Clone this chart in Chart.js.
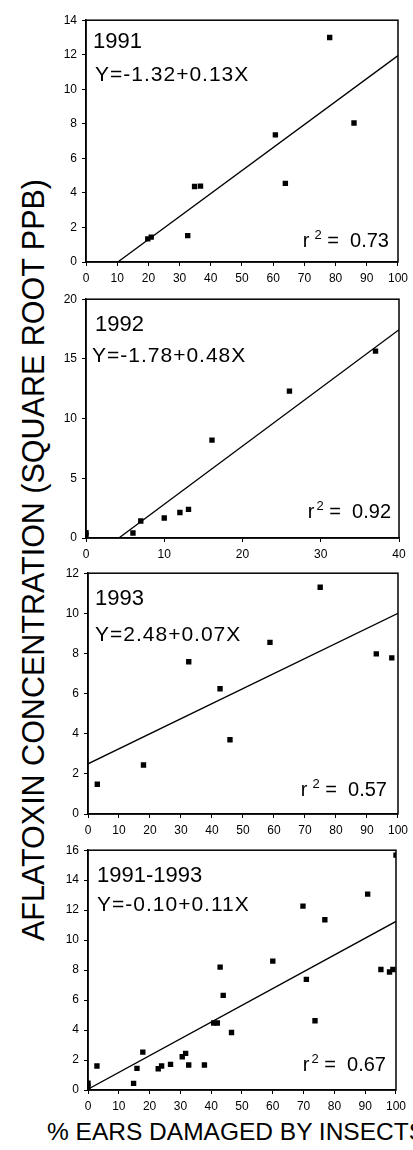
<!DOCTYPE html>
<html>
<head>
<meta charset="utf-8">
<script src="https://cdn.jsdelivr.net/npm/chart.js@4.4.1/dist/chart.umd.min.js"></script>
<style>
  html, body { margin: 0; padding: 0; background: #fff; }
  body { width: 413px; height: 1150px; overflow: hidden; position: relative; font-family: "Liberation Sans", Arial, sans-serif; }
  canvas { position: absolute; }
  #ytitle { position: absolute; left: 33px; top: 560px; white-space: nowrap; font-size: 30.5px; line-height: 30.5px;
            transform: translate(-50%, -50%) rotate(-90deg); color: #000; }
  #xtitle { position: absolute; left: 47px; top: 1120px; white-space: nowrap; font-size: 24.5px; line-height: 24.5px; color: #000; }
</style>
</head>
<body>
<div id="ytitle">AFLATOXIN CONCENTRATION (SQUARE ROOT PPB)</div>
<div id="xtitle">% EARS DAMAGED BY INSECTS</div>
<canvas id="c1"></canvas>
<canvas id="c2"></canvas>
<canvas id="c3"></canvas>
<canvas id="c4"></canvas>
<script>
// ---- data ----
const panelTitles = ["1991", "1992", "1993", "1991-1993"];
const equations = ["Y=-1.32+0.13X", "Y=-1.78+0.48X", "Y=2.48+0.07X", "Y=-0.10+0.11X"];
const rSquared = ["0.73", "0.92", "0.57", "0.67"];

const x1991 = [19.8, 20.9, 32.6, 34.8, 36.7, 60.7, 63.9, 78.1, 85.9];
const y1991 = [1.34, 1.44, 1.53, 4.37, 4.39, 7.36, 4.55, 13.0, 8.05];
const fitX1991 = [10.2, 100];
const fitY1991 = [0, 11.95];

const x1992 = [0, 0, 6.0, 7.0, 10.0, 12.0, 13.1, 16.1, 26.0, 37.0];
const y1992 = [0.45, 0.25, 0.42, 1.42, 1.67, 2.14, 2.40, 8.2, 12.3, 15.65];
const fitX1992 = [4.2, 40];
const fitY1992 = [0, 17.45];

const x1993 = [3.0, 17.9, 32.5, 42.6, 45.8, 58.7, 74.9, 93.0, 98.0];
const y1993 = [1.48, 2.44, 7.59, 6.24, 3.70, 8.55, 11.3, 7.98, 7.78];
const fitX1993 = [0, 100];
const fitY1993 = [2.5, 10.0];

const xAll = [0, 0, 2.9, 14.8, 15.9, 17.8, 22.8, 23.9, 26.8, 30.6, 31.7, 32.7, 37.8, 40.8, 42.0, 42.9, 43.9, 46.6,
              60.0, 69.8, 70.9, 73.7, 76.9, 90.8, 95.1, 97.9, 99.0, 100];
const yAll = [0.45, 0.25, 1.6, 0.44, 1.44, 2.53, 1.42, 1.6, 1.71, 2.22, 2.44, 1.67, 1.67, 4.47, 4.47, 8.2, 6.31, 3.84,
              8.6, 12.27, 7.38, 4.62, 11.36, 13.07, 8.04, 7.87, 8.04, 15.67];
const fitXAll = [0, 100];
const fitYAll = [0.05, 11.25];

const xMax = [100, 40, 100, 100];
const xStep = [10, 10, 10, 10];
const yMax = [14, 20, 12, 16];
const yStep = [2, 5, 2, 2];

const seriesX = [x1991, x1992, x1993, xAll];
const seriesY = [y1991, y1992, y1993, yAll];
const fitXs = [fitX1991, fitX1992, fitX1993, fitXAll];
const fitYs = [fitY1991, fitY1992, fitY1993, fitYAll];

// ---- layout (plot-area boxes in page pixels) ----
const areas = [
  { left: 86, right: 399, top: 20, bottom: 262 },
  { left: 86, right: 399, top: 299, bottom: 538 },
  { left: 88, right: 399, top: 573, bottom: 814 },
  { left: 88, right: 397, top: 850, bottom: 1090 }
];
const annot = [
  { tdx: 7, tdy: 28, edx: 9, edy: 61, rdy: 15, rdx: 9, sp: true },
  { tdx: 9, tdy: 32, edx: 6, edy: 63, rdy: 20, rdx: 8, sp: false },
  { tdx: 7, tdy: 32, edx: 7, edy: 68, rdy: 18, rdx: 11, sp: true },
  { tdx: 9, tdy: 32, edx: 9, edy: 61, rdy: 19, rdx: 10, sp: false }
];
const YW = 40, XH = 28, PT = 12, PR = 14;
const FONT = "'Liberation Sans', Arial, sans-serif";

const framePlugin = {
  id: 'frame',
  afterDraw(chart) {
    const a = chart.chartArea, ctx = chart.ctx, i = chart.options.plugins.frame.idx;
    const an = annot[i];
    ctx.save();
    ctx.strokeStyle = '#000';
    ctx.lineWidth = 1.5;
    ctx.strokeRect(a.left, a.top, a.right - a.left, a.bottom - a.top);
    ctx.fillStyle = '#000';
    ctx.textBaseline = 'alphabetic';
    ctx.textAlign = 'left';
    ctx.font = '22px ' + FONT;
    ctx.letterSpacing = '0px';
    ctx.fillText(panelTitles[i], a.left + an.tdx, a.top + an.tdy);
    ctx.font = '21px ' + FONT;
    ctx.letterSpacing = '1px';
    ctx.fillText(equations[i], a.left + an.edx, a.top + an.edy);
    ctx.letterSpacing = '0px';
    // r^2 = value, right aligned
    const base = a.bottom - an.rdy;
    let xr = a.right - an.rdx;
    ctx.font = '20px ' + FONT;
    const tail = ' =  ' + rSquared[i];
    const wTail = ctx.measureText(tail).width;
    ctx.fillText(tail, xr - wTail, base);
    xr -= wTail;
    ctx.font = '13px ' + FONT;
    const w2 = ctx.measureText('2').width;
    ctx.fillText('2', xr - w2, base - 8);
    xr -= w2 + (an.sp ? 5 : 2);
    ctx.font = '20px ' + FONT;
    const wr = ctx.measureText('r').width;
    ctx.fillText('r', xr - wr, base);
    ctx.restore();
  }
};

function axis(min, max, step, isY) {
  return {
    type: 'linear', min: min, max: max,
    ticks: { stepSize: step, color: '#000', font: { family: FONT, size: 12 }, padding: isY ? 5 : 5,
             maxRotation: 0, autoSkip: false, includeBounds: true },
    grid: { drawOnChartArea: false, drawTicks: true, tickLength: 4, color: '#000', lineWidth: 1 },
    border: { display: true, color: '#000', width: 1.5 },
    afterFit: isY ? (s) => { s.width = YW; } : (s) => { s.height = XH; }
  };
}

for (let i = 0; i < 4; i++) {
  const a = areas[i];
  const cv = document.getElementById('c' + (i + 1));
  const left = a.left - YW, top = a.top - PT;
  const w = a.right + PR - left, h = a.bottom - a.top + PT + XH;
  cv.style.left = left + 'px';
  cv.style.top = top + 'px';
  cv.width = w; cv.height = h;
  cv.style.width = w + 'px'; cv.style.height = h + 'px';
  const pts = seriesX[i].map((x, k) => ({ x: x, y: seriesY[i][k] }));
  const fit = fitXs[i].map((x, k) => ({ x: x, y: fitYs[i][k] }));
  new Chart(cv, {
    type: 'scatter',
    data: {
      datasets: [
        { type: 'line', data: fit, borderColor: '#000', borderWidth: 1.3, pointRadius: 0, fill: false, order: 2 },
        { data: pts, pointStyle: 'rect', pointRadius: 3.8, backgroundColor: '#000', borderWidth: 0, order: 1 }
      ]
    },
    options: {
      responsive: false, animation: false, devicePixelRatio: 1,
      layout: { padding: { top: PT, right: PR, bottom: 0, left: 0 } },
      scales: { x: axis(0, xMax[i], xStep[i], false), y: axis(0, yMax[i], yStep[i], true) },
      plugins: { legend: { display: false }, tooltip: { enabled: false }, frame: { idx: i } }
    },
    plugins: [framePlugin]
  });
}
</script>
</body>
</html>
